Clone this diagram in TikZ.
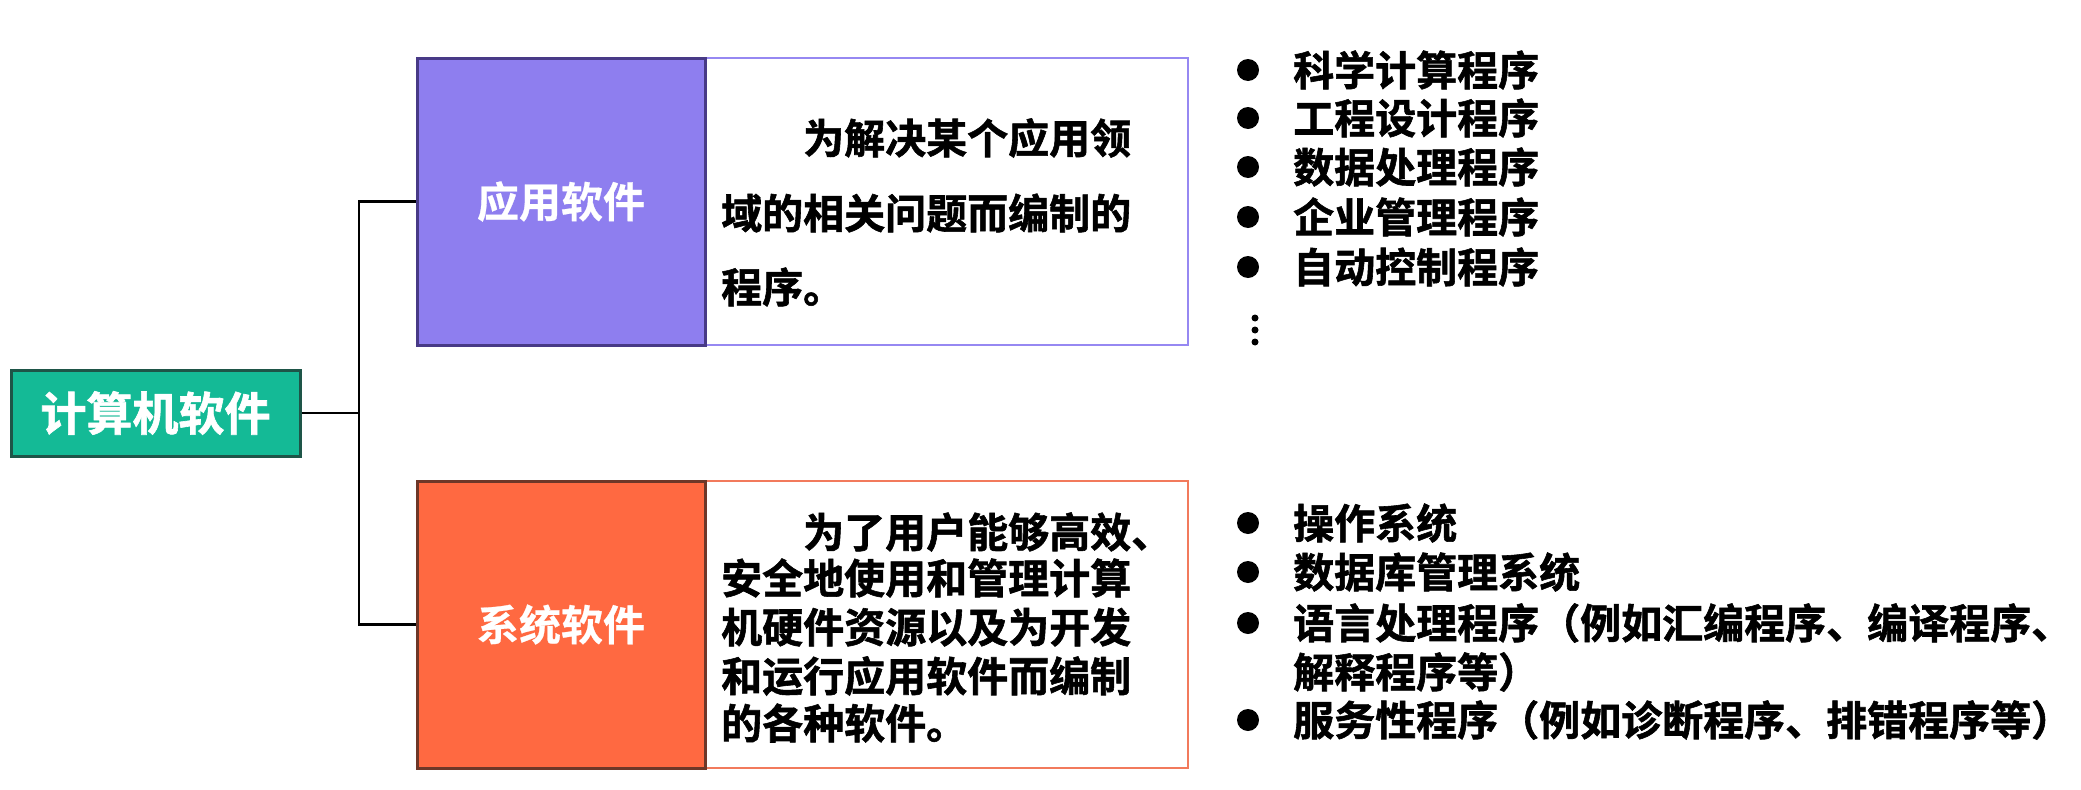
\documentclass[tikz,border=0pt]{standalone}
\usepackage{fontspec}
\newfontfamily\cjk[FakeBold=1.4]{Noto Sans CJK SC Bold}
\newfontfamily\cjkb[FakeBold=0.6]{Noto Sans CJK SC Bold}
\definecolor{teal1}{RGB}{20,186,150}
\definecolor{teal2}{RGB}{30,85,72}
\definecolor{purp1}{RGB}{142,126,239}
\definecolor{purp2}{RGB}{72,58,135}
\definecolor{purp3}{RGB}{150,136,242}
\definecolor{oran1}{RGB}{255,105,65}
\definecolor{oran2}{RGB}{110,55,40}
\definecolor{oran3}{RGB}{242,122,92}
\tikzset{
  rootbox/.style={draw=teal2,fill=teal1,line width=3pt,minimum width=289pt,minimum height=86pt,inner sep=0pt,text=white,font=\cjk\fontsize{46}{50}\selectfont},
  labbox/.style={line width=3pt,minimum width=288pt,minimum height=287pt,inner sep=0pt,text=white,font=\cjkb\fontsize{42}{50}\selectfont},
  descbox/.style={line width=2pt,fill=white,minimum width=483pt,minimum height=287pt,inner sep=0pt},
  bodytxt/.style={anchor=west,inner sep=0pt,font=\cjk\fontsize{41}{48}\selectfont},
  itemtxt/.style={anchor=west,inner sep=0pt,font=\cjk\fontsize{41}{48}\selectfont},
  dotmark/.style={circle,fill=black,minimum size=22pt,inner sep=0pt},
  smalldot/.style={circle,fill=black,minimum size=7pt,inner sep=0pt},
  conn/.style={draw=black,line width=2.5pt}
}
\begin{document}
\begin{tikzpicture}[x=1pt,y=-1pt]
\useasboundingbox[fill=white] (0,0) rectangle (2081,790);
% boxes
\node[descbox,draw=purp3] (appd) at (946.5,201.5) {};
\node[labbox,draw=purp2,fill=purp1] (app) at (561,201.5) {应用软件};
\node[descbox,draw=oran3] (sysd) at (946.5,624.5) {};
\node[labbox,draw=oran2,fill=oran1] (sys) at (561,624.5) {系统软件};
\node[rootbox] (root) at (155.5,413) {计算机软件};
% connectors
\coordinate (jx) at (359,413);
\draw[conn] (root.east) -- (jx);
\draw[conn] (app.west) -| (jx) |- (sys.west);
% description texts
\node[bodytxt] (a1) at (721,138) {\hspace*{2em}为解决某个应用领};
\node[bodytxt] (a2) at (721,213) {域的相关问题而编制的};
\node[bodytxt] (a3) at (721,287) {程序。};
\node[bodytxt] (s1) at (721,532) {\hspace*{2em}为了用户能够高效、};
\node[bodytxt] (s2) at (721,578) {安全地使用和管理计算};
\node[bodytxt] (s3) at (721,627) {机硬件资源以及为开发};
\node[bodytxt] (s4) at (721,676) {和运行应用软件而编制};
\node[bodytxt] (s5) at (721,723) {的各种软件。};
% application list
\node[dotmark] (b1) at (1248,70) {};
\node[itemtxt] (t1) at (1293,70) {科学计算程序};
\node[dotmark] (b2) at (1248,118) {};
\node[itemtxt] (t2) at (1293,118) {工程设计程序};
\node[dotmark] (b3) at (1248,167) {};
\node[itemtxt] (t3) at (1293,167) {数据处理程序};
\node[dotmark] (b4) at (1248,217) {};
\node[itemtxt] (t4) at (1293,217) {企业管理程序};
\node[dotmark] (b5) at (1248,267) {};
\node[itemtxt] (t5) at (1293,267) {自动控制程序};
\node[smalldot] (d1) at (1255,318) {};
\node[smalldot] (d2) at (1255,330) {};
\node[smalldot] (d3) at (1255,342) {};
% system list
\node[dotmark] (c1) at (1248,523) {};
\node[itemtxt] (u1) at (1293,523) {操作系统};
\node[dotmark] (c2) at (1248,572) {};
\node[itemtxt] (u2) at (1293,572) {数据库管理系统};
\node[dotmark] (c3) at (1248,623) {};
\node[itemtxt] (u3) at (1293,623) {语言处理程序（例如汇编程序、编译程序、};
\node[itemtxt] (u4) at (1293,672) {解释程序等）};
\node[dotmark] (c4) at (1248,720) {};
\node[itemtxt] (u5) at (1293,720) {服务性程序（例如诊断程序、排错程序等）};
\end{tikzpicture}
\end{document}
